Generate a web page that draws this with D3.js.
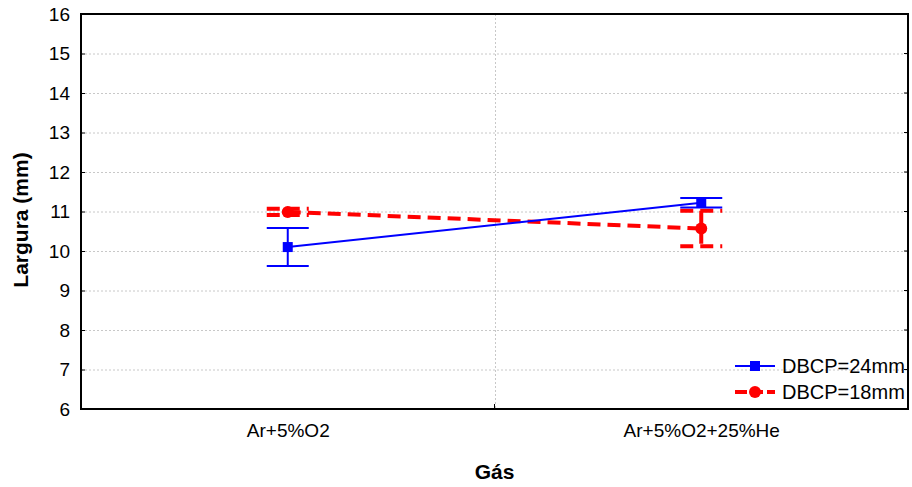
<!DOCTYPE html>
<html>
<head>
<meta charset="utf-8">
<script src="https://cdn.jsdelivr.net/npm/d3@7"></script>
<style>
  body { margin: 0; background: #fff; }
  svg { display: block; font-family: "Liberation Sans", Arial, sans-serif; }
</style>
</head>
<body>
<svg id="chart" width="912" height="487"></svg>
<script>
// Gas mixtures on the x axis
const categories = ["Ar+5%O2", "Ar+5%O2+25%He"];
// Mean width (mm) and half-width of the error bar, per series
const series24 = [10.1, 11.22];
const err24 = [0.48, 0.12];
const series18 = [10.99, 10.57];
const err18 = [0.08, 0.45];
const yTicks = [6, 7, 8, 9, 10, 11, 12, 13, 14, 15, 16];
const legendLabels = ["DBCP=24mm", "DBCP=18mm"];

const svg = d3.select("#chart");
const m = { left: 81, right: 908, top: 14, bottom: 409 };
const FONT = "Liberation Sans, Arial, sans-serif";

const x = d3.scalePoint().domain(categories).range([m.left, m.right]).padding(0.5);
const y = d3.scaleLinear().domain([6, 16]).range([m.bottom, m.top]);

// grid
const grid = svg.append("g").attr("stroke", "#c8c8c8").attr("stroke-width", 1).attr("stroke-dasharray", "2,2");
yTicks.filter(t => t > 6 && t < 16).forEach(t => {
  grid.append("line").attr("x1", m.left).attr("x2", m.right).attr("y1", y(t) + 0.5).attr("y2", y(t) + 0.5);
});
const xMid = (x(categories[0]) + x(categories[1])) / 2;
grid.append("line").attr("x1", Math.round(xMid) + 0.5).attr("x2", Math.round(xMid) + 0.5).attr("y1", m.top).attr("y2", m.bottom);

// frame
svg.append("rect").attr("x", m.left).attr("y", m.top).attr("width", m.right - m.left).attr("height", m.bottom - m.top)
  .attr("fill", "none").attr("stroke", "#000").attr("stroke-width", 2);

// y axis
const yAxis = d3.axisLeft(y).tickValues(yTicks).tickSize(-4).tickPadding(11).tickFormat(d3.format("d"));
const ya = svg.append("g").attr("transform", `translate(${m.left},0)`).call(yAxis);
ya.select(".domain").remove();
ya.selectAll("text").attr("font-size", 19).attr("fill", "#000").attr("font-family", FONT);
ya.selectAll("line").attr("stroke", "#000");
// right-side ticks
yTicks.forEach(t => {
  svg.append("line").attr("x1", m.right - 4).attr("x2", m.right).attr("y1", y(t)).attr("y2", y(t)).attr("stroke", "#000");
});

// x axis
const xAxis = d3.axisBottom(x).tickSize(0).tickPadding(15);
const xa = svg.append("g").attr("transform", `translate(0,${m.bottom})`).call(xAxis);
xa.select(".domain").remove();
xa.selectAll("text").attr("font-size", 19).attr("fill", "#000").attr("font-family", FONT);
svg.append("line").attr("x1", xMid).attr("x2", xMid).attr("y1", m.bottom).attr("y2", m.bottom - 5).attr("stroke", "#000");

// axis titles
svg.append("text").attr("x", (m.left + m.right) / 2).attr("y", 479).attr("text-anchor", "middle")
  .attr("font-size", 21).attr("font-weight", "bold").text("Gás");
svg.append("text").attr("transform", `translate(28,220) rotate(-90)`).attr("text-anchor", "middle")
  .attr("font-size", 21).attr("font-weight", "bold").text("Largura (mm)");

const capW = 21;
const line = d3.line().x((d, i) => x(categories[i])).y(d => y(d));

// DBCP=18mm (red, dashed)
const red = "#ff0000";
const dash = "13,7";
const gR = svg.append("g");
gR.append("path").datum(series18).attr("d", line).attr("fill", "none").attr("stroke", red)
  .attr("stroke-width", 4).attr("stroke-dasharray", dash);
series18.forEach((v, i) => {
  const cx = x(categories[i]);
  [v + err18[i], v - err18[i]].forEach(e => {
    gR.append("line").attr("x1", cx - capW).attr("x2", cx + capW).attr("y1", y(e)).attr("y2", y(e))
      .attr("stroke", red).attr("stroke-width", 4).attr("stroke-dasharray", dash);
  });
  gR.append("line").attr("x1", cx).attr("x2", cx).attr("y1", y(v + err18[i])).attr("y2", y(v - err18[i]))
    .attr("stroke", red).attr("stroke-width", 4).attr("stroke-dasharray", dash);
  gR.append("circle").attr("cx", cx).attr("cy", y(v)).attr("r", 6).attr("fill", red);
});

// DBCP=24mm (blue, solid)
const blue = "#0000ff";
const gB = svg.append("g");
gB.append("path").datum(series24).attr("d", line).attr("fill", "none").attr("stroke", blue).attr("stroke-width", 2);
series24.forEach((v, i) => {
  const cx = x(categories[i]);
  [v + err24[i], v - err24[i]].forEach(e => {
    gB.append("line").attr("x1", cx - capW).attr("x2", cx + capW).attr("y1", y(e)).attr("y2", y(e))
      .attr("stroke", blue).attr("stroke-width", 2);
  });
  gB.append("line").attr("x1", cx).attr("x2", cx).attr("y1", y(v + err24[i])).attr("y2", y(v - err24[i]))
    .attr("stroke", blue).attr("stroke-width", 2);
  gB.append("rect").attr("x", cx - 5).attr("y", y(v) - 5).attr("width", 10).attr("height", 10).attr("fill", blue);
});

// legend
const lg = svg.append("g");
const lx0 = 735, lx1 = 775;
const rows = [366, 392];
lg.append("line").attr("x1", lx0).attr("x2", lx1).attr("y1", rows[0]).attr("y2", rows[0]).attr("stroke", blue).attr("stroke-width", 2);
lg.append("rect").attr("x", (lx0 + lx1) / 2 - 5).attr("y", rows[0] - 5).attr("width", 10).attr("height", 10).attr("fill", blue);
lg.append("line").attr("x1", lx0).attr("x2", lx1).attr("y1", rows[1]).attr("y2", rows[1]).attr("stroke", red).attr("stroke-width", 4).attr("stroke-dasharray", "12,4");
lg.append("circle").attr("cx", (lx0 + lx1) / 2).attr("cy", rows[1]).attr("r", 6).attr("fill", red);
legendLabels.forEach((t, i) => {
  lg.append("text").attr("x", 782).attr("y", rows[i] + 7).attr("font-size", 20).attr("fill", "#000").text(t);
});
</script>
</body>
</html>
